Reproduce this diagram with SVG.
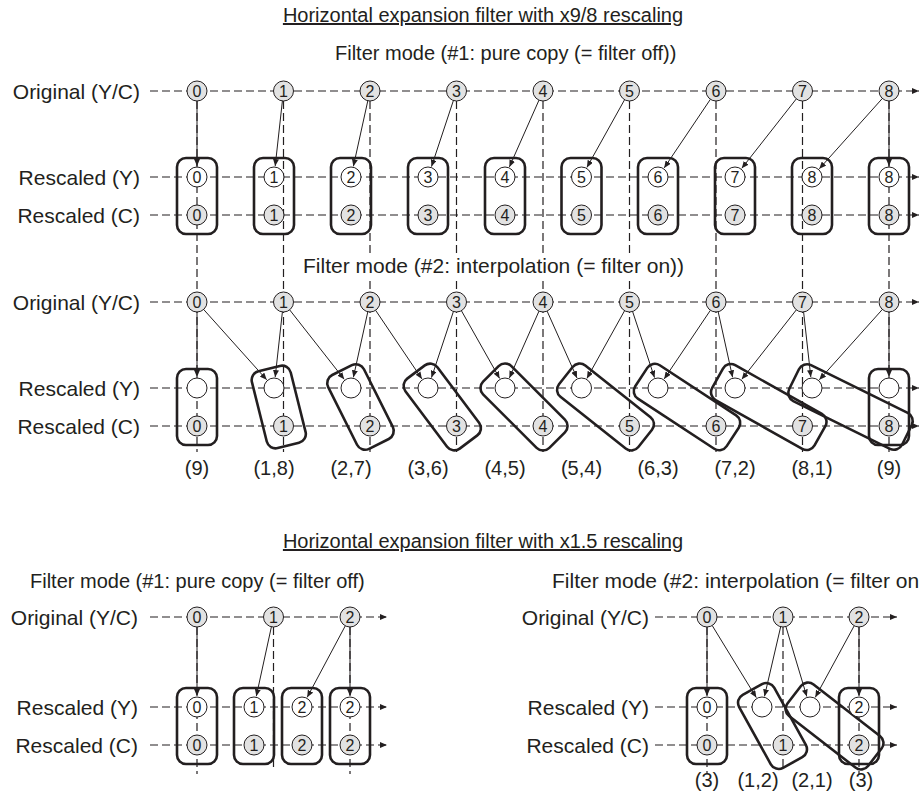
<svg xmlns="http://www.w3.org/2000/svg" width="922" height="798" viewBox="0 0 922 798">
<style>
text{font-family:"Liberation Sans",Arial,sans-serif;fill:#231f20}
.ttl{font-size:20px;text-anchor:middle;text-decoration:underline}
.fm{font-size:20px}
.lbl{font-size:21px;text-anchor:end}
.wt{font-size:20px;text-anchor:middle}
.n{font-size:16px;text-anchor:middle}
.dash{stroke:#231f20;stroke-width:1.2;stroke-dasharray:8 4;fill:none}
.dh{stroke:#231f20;stroke-width:1.2;stroke-dasharray:8 4;fill:none;marker-end:url(#ah)}
.arr{stroke:#231f20;stroke-width:1;fill:none;marker-end:url(#ah)}
.box{fill:none;stroke:#231f20;stroke-width:2.6}
.cg{fill:#e2e2e2;stroke:#231f20;stroke-width:1}
.cw{fill:#fff;stroke:#231f20;stroke-width:1}
</style>
<defs>
<marker id="ah" markerUnits="userSpaceOnUse" markerWidth="8" markerHeight="6" refX="7" refY="3" orient="auto"><path d="M0,0 L7,3 L0,6 z" fill="#231f20"/></marker>
</defs>

<!-- titles -->
<text class="ttl" x="483" y="22">Horizontal expansion filter with x9/8 rescaling</text>
<text class="fm" x="335" y="60">Filter mode (#1: pure copy (= filter off))</text>
<text class="ttl" x="483" y="548">Horizontal expansion filter with x1.5 rescaling</text>
<text class="fm" x="30" y="588">Filter mode (#1: pure copy (= filter off)</text>
<text class="fm" x="552" y="588" style="font-size:21px">Filter mode (#2: interpolation (= filter on</text>

<!-- row labels -->
<text class="lbl" x="140" y="99">Original (Y/C)</text>
<text class="lbl" x="140" y="185">Rescaled (Y)</text>
<text class="lbl" x="140" y="223">Rescaled (C)</text>
<text class="lbl" x="140" y="310">Original (Y/C)</text>
<text class="lbl" x="140" y="396">Rescaled (Y)</text>
<text class="lbl" x="140" y="434">Rescaled (C)</text>
<text class="lbl" x="138" y="625">Original (Y/C)</text>
<text class="lbl" x="138" y="715">Rescaled (Y)</text>
<text class="lbl" x="138" y="753">Rescaled (C)</text>
<text class="lbl" x="649" y="625">Original (Y/C)</text>
<text class="lbl" x="649" y="715">Rescaled (Y)</text>
<text class="lbl" x="649" y="753">Rescaled (C)</text>

<g id="connectors">
<!-- horizontal dashed rows -->
<line class="dh" x1="150" y1="91" x2="919" y2="91"/>
<line class="dh" x1="150" y1="177" x2="919" y2="177"/>
<line class="dh" x1="150" y1="215" x2="919" y2="215"/>
<line class="dh" x1="150" y1="302" x2="919" y2="302"/>
<line class="dh" x1="150" y1="388" x2="919" y2="388"/>
<line class="dh" x1="150" y1="426" x2="919" y2="426"/>
<line class="dh" x1="150" y1="617" x2="387" y2="617"/>
<line class="dh" x1="150" y1="707" x2="387" y2="707"/>
<line class="dh" x1="150" y1="745" x2="387" y2="745"/>
<line class="dh" x1="655" y1="617" x2="897" y2="617"/>
<line class="dh" x1="655" y1="707" x2="897" y2="707"/>
<line class="dh" x1="655" y1="745" x2="897" y2="745"/>
<!-- vertical dashed lines -->
<line class="dash" x1="197" y1="101" x2="197" y2="452"/>
<line class="dash" x1="283.5" y1="101" x2="283.5" y2="452"/>
<line class="dash" x1="370" y1="101" x2="370" y2="452"/>
<line class="dash" x1="456.5" y1="101" x2="456.5" y2="452"/>
<line class="dash" x1="543" y1="101" x2="543" y2="452"/>
<line class="dash" x1="629.5" y1="101" x2="629.5" y2="452"/>
<line class="dash" x1="716" y1="101" x2="716" y2="452"/>
<line class="dash" x1="802.5" y1="101" x2="802.5" y2="452"/>
<line class="dash" x1="889" y1="101" x2="889" y2="452"/>
<line class="dash" x1="197" y1="627" x2="197" y2="774"/>
<line class="dash" x1="273.5" y1="627" x2="273.5" y2="770"/>
<line class="dash" x1="350" y1="627" x2="350" y2="774"/>
<line class="dash" x1="707" y1="627" x2="707" y2="774"/>
<line class="dash" x1="783" y1="627" x2="783" y2="770"/>
<line class="dash" x1="859" y1="627" x2="859" y2="774"/>

<!-- section 1 arrows -->
<line class="arr" x1="197" y1="101" x2="197" y2="166"/>
<line class="arr" x1="282.4" y1="100.9" x2="275.2" y2="166.1"/>
<line class="arr" x1="367.8" y1="100.8" x2="353.4" y2="166.3"/>
<line class="arr" x1="453.4" y1="100.5" x2="431.5" y2="166.6"/>
<line class="arr" x1="539" y1="100.1" x2="509.4" y2="166.9"/>
<line class="arr" x1="624.6" y1="99.7" x2="586.9" y2="167.4"/>
<line class="arr" x1="710.4" y1="99.3" x2="664.2" y2="167.9"/>
<line class="arr" x1="796.3" y1="98.9" x2="741.8" y2="168.3"/>
<line class="arr" x1="882.3" y1="98.5" x2="819.3" y2="168.8"/>
<line class="arr" x1="889" y1="101" x2="889" y2="166"/>

<!-- section 2 arrows -->
<line class="arr" x1="197" y1="312" x2="197" y2="377"/>
<line class="arr" x1="282.4" y1="311.9" x2="275.2" y2="377.1"/>
<line class="arr" x1="367.8" y1="311.8" x2="353.4" y2="377.3"/>
<line class="arr" x1="453.4" y1="311.5" x2="431.5" y2="377.6"/>
<line class="arr" x1="539" y1="311.1" x2="509.4" y2="377.9"/>
<line class="arr" x1="624.6" y1="310.7" x2="586.9" y2="378.4"/>
<line class="arr" x1="710.4" y1="310.3" x2="664.2" y2="378.9"/>
<line class="arr" x1="796.3" y1="309.9" x2="741.8" y2="379.3"/>
<line class="arr" x1="882.3" y1="309.5" x2="819.3" y2="379.8"/>
<line class="arr" x1="203.7" y1="309.5" x2="266.7" y2="379.8"/>
<line class="arr" x1="289.7" y1="309.9" x2="344.2" y2="379.3"/>
<line class="arr" x1="375.6" y1="310.3" x2="421.9" y2="378.9"/>
<line class="arr" x1="461.4" y1="310.7" x2="499.6" y2="378.4"/>
<line class="arr" x1="547.1" y1="311.1" x2="577" y2="378"/>
<line class="arr" x1="632.6" y1="311.5" x2="654.5" y2="377.6"/>
<line class="arr" x1="718.2" y1="311.8" x2="732.6" y2="377.3"/>
<line class="arr" x1="803.6" y1="311.9" x2="810.8" y2="377.1"/>
<line class="arr" x1="889" y1="312" x2="889" y2="377"/>

<!-- bottom-left arrows -->
<line class="arr" x1="197" y1="627" x2="197" y2="696"/>
<line class="arr" x1="271.4" y1="626.8" x2="256.3" y2="696.2"/>
<line class="arr" x1="345.3" y1="625.8" x2="307.2" y2="697.3"/>
<line class="arr" x1="350" y1="627" x2="350" y2="696"/>

<!-- bottom-right arrows -->
<line class="arr" x1="707" y1="627" x2="707" y2="696"/>
<line class="arr" x1="712.2" y1="625.5" x2="756.3" y2="697.6"/>
<line class="arr" x1="780.7" y1="626.7" x2="764.5" y2="696.3"/>
<line class="arr" x1="785.9" y1="626.6" x2="806.8" y2="696.5"/>
<line class="arr" x1="854.2" y1="625.8" x2="815.3" y2="697.3"/>
<line class="arr" x1="859" y1="627" x2="859" y2="696"/>
</g>

<!-- white backing so vertical dashes break at the mode caption -->
<rect x="300" y="253" width="392" height="26" fill="#fff"/>
<text class="fm" x="303" y="273" style="font-size:21px">Filter mode (#2: interpolation (= filter on))</text>

<!-- section 1 boxes -->
<g id="s1-boxes">
<rect id="s1-box0" class="box" x="177" y="158" width="40" height="76" rx="9"/>
<rect id="s1-box1" class="box" x="254" y="158" width="40" height="76" rx="9"/>
<rect id="s1-box2" class="box" x="331" y="158" width="40" height="76" rx="9"/>
<rect id="s1-box3" class="box" x="408" y="158" width="40" height="76" rx="9"/>
<rect id="s1-box4" class="box" x="485" y="158" width="40" height="76" rx="9"/>
<rect id="s1-box5" class="box" x="561.5" y="158" width="40" height="76" rx="9"/>
<rect id="s1-box6" class="box" x="638" y="158" width="40" height="76" rx="9"/>
<rect id="s1-box7" class="box" x="715" y="158" width="40" height="76" rx="9"/>
<rect id="s1-box8" class="box" x="792" y="158" width="40" height="76" rx="9"/>
<rect id="s1-box9" class="box" x="869" y="158" width="40" height="76" rx="9"/>
</g>

<!-- section 2 boxes -->
<g id="s2-boxes">
<rect id="s2-box0" class="box" x="177" y="369" width="40" height="76" rx="9"/>
<rect id="s2-box1" class="box" x="-20" y="-39.58" width="40" height="79.17" rx="9" transform="translate(278.75,407) rotate(-14.04)"/>
<rect id="s2-box2" class="box" x="-20" y="-41.25" width="40" height="82.49" rx="9" transform="translate(360.5,407) rotate(-26.57)"/>
<rect id="s2-box3" class="box" x="-20" y="-43.75" width="40" height="87.5" rx="9" transform="translate(442.25,407) rotate(-36.87)"/>
<rect id="s2-box4" class="box" x="-20" y="-46.87" width="40" height="93.74" rx="9" transform="translate(524,407) rotate(-45)"/>
<rect id="s2-box5" class="box" x="-20" y="-50.61" width="40" height="101.22" rx="9" transform="translate(605.5,407) rotate(-51.63)"/>
<rect id="s2-box6" class="box" x="-20" y="-54.67" width="40" height="109.34" rx="9" transform="translate(687,407) rotate(-56.77)"/>
<rect id="s2-box7" class="box" x="-20" y="-58.73" width="40" height="117.46" rx="9" transform="translate(768.75,407) rotate(-60.62)"/>
<rect id="s2-box8" class="box" x="-20" y="-62.94" width="40" height="125.87" rx="9" transform="translate(850.5,407) rotate(-63.73)"/>
<rect id="s2-box9" class="box" x="869" y="369" width="40" height="76" rx="9"/>
</g>

<!-- bottom boxes -->
<g id="bl-boxes">
<rect id="bl-box0" class="box" x="177" y="688" width="40" height="76" rx="9"/>
<rect id="bl-box1" class="box" x="234" y="688" width="40" height="76" rx="9"/>
<rect id="bl-box2" class="box" x="282" y="688" width="40" height="76" rx="9"/>
<rect id="bl-box3" class="box" x="330" y="688" width="40" height="76" rx="9"/>
</g>
<g id="br-boxes">
<rect id="br-box0" class="box" x="687" y="688" width="40" height="76" rx="9"/>
<rect id="br-box1" class="box" x="-20" y="-41.71" width="40" height="83.42" rx="9" transform="translate(772.5,726) rotate(-28.93)"/>
<rect id="br-box2" class="box" x="-20" y="-51" width="40" height="102.01" rx="9" transform="translate(834.5,726) rotate(-52.2)"/>
<rect id="br-box3" class="box" x="839" y="688" width="40" height="76" rx="9"/>
</g>

<!-- section 1 nodes -->
<g id="s1-orig">
<g id="s1-o0"><circle class="cg" cx="197" cy="91" r="10"/><text class="n" x="197" y="96.5">0</text></g>
<g id="s1-o1"><circle class="cg" cx="283.5" cy="91" r="10"/><text class="n" x="283.5" y="96.5">1</text></g>
<g id="s1-o2"><circle class="cg" cx="370" cy="91" r="10"/><text class="n" x="370" y="96.5">2</text></g>
<g id="s1-o3"><circle class="cg" cx="456.5" cy="91" r="10"/><text class="n" x="456.5" y="96.5">3</text></g>
<g id="s1-o4"><circle class="cg" cx="543" cy="91" r="10"/><text class="n" x="543" y="96.5">4</text></g>
<g id="s1-o5"><circle class="cg" cx="629.5" cy="91" r="10"/><text class="n" x="629.5" y="96.5">5</text></g>
<g id="s1-o6"><circle class="cg" cx="716" cy="91" r="10"/><text class="n" x="716" y="96.5">6</text></g>
<g id="s1-o7"><circle class="cg" cx="802.5" cy="91" r="10"/><text class="n" x="802.5" y="96.5">7</text></g>
<g id="s1-o8"><circle class="cg" cx="889" cy="91" r="10"/><text class="n" x="889" y="96.5">8</text></g>
</g>
<g id="s1-y">
<g id="s1-y0"><circle class="cw" cx="197" cy="177" r="10"/><text class="n" x="197" y="182.5">0</text></g>
<g id="s1-y1"><circle class="cw" cx="274" cy="177" r="10"/><text class="n" x="274" y="182.5">1</text></g>
<g id="s1-y2"><circle class="cw" cx="351" cy="177" r="10"/><text class="n" x="351" y="182.5">2</text></g>
<g id="s1-y3"><circle class="cw" cx="428" cy="177" r="10"/><text class="n" x="428" y="182.5">3</text></g>
<g id="s1-y4"><circle class="cw" cx="505" cy="177" r="10"/><text class="n" x="505" y="182.5">4</text></g>
<g id="s1-y5"><circle class="cw" cx="581.5" cy="177" r="10"/><text class="n" x="581.5" y="182.5">5</text></g>
<g id="s1-y6"><circle class="cw" cx="658" cy="177" r="10"/><text class="n" x="658" y="182.5">6</text></g>
<g id="s1-y7"><circle class="cw" cx="735" cy="177" r="10"/><text class="n" x="735" y="182.5">7</text></g>
<g id="s1-y8"><circle class="cw" cx="812" cy="177" r="10"/><text class="n" x="812" y="182.5">8</text></g>
<g id="s1-y9"><circle class="cw" cx="889" cy="177" r="10"/><text class="n" x="889" y="182.5">8</text></g>
</g>
<g id="s1-c">
<g id="s1-c0"><circle class="cg" cx="197" cy="215" r="10"/><text class="n" x="197" y="220.5">0</text></g>
<g id="s1-c1"><circle class="cg" cx="274" cy="215" r="10"/><text class="n" x="274" y="220.5">1</text></g>
<g id="s1-c2"><circle class="cg" cx="351" cy="215" r="10"/><text class="n" x="351" y="220.5">2</text></g>
<g id="s1-c3"><circle class="cg" cx="428" cy="215" r="10"/><text class="n" x="428" y="220.5">3</text></g>
<g id="s1-c4"><circle class="cg" cx="505" cy="215" r="10"/><text class="n" x="505" y="220.5">4</text></g>
<g id="s1-c5"><circle class="cg" cx="581.5" cy="215" r="10"/><text class="n" x="581.5" y="220.5">5</text></g>
<g id="s1-c6"><circle class="cg" cx="658" cy="215" r="10"/><text class="n" x="658" y="220.5">6</text></g>
<g id="s1-c7"><circle class="cg" cx="735" cy="215" r="10"/><text class="n" x="735" y="220.5">7</text></g>
<g id="s1-c8"><circle class="cg" cx="812" cy="215" r="10"/><text class="n" x="812" y="220.5">8</text></g>
<g id="s1-c9"><circle class="cg" cx="889" cy="215" r="10"/><text class="n" x="889" y="220.5">8</text></g>
</g>

<!-- section 2 nodes -->
<g id="s2-orig">
<g id="s2-o0"><circle class="cg" cx="197" cy="302" r="10"/><text class="n" x="197" y="307.5">0</text></g>
<g id="s2-o1"><circle class="cg" cx="283.5" cy="302" r="10"/><text class="n" x="283.5" y="307.5">1</text></g>
<g id="s2-o2"><circle class="cg" cx="370" cy="302" r="10"/><text class="n" x="370" y="307.5">2</text></g>
<g id="s2-o3"><circle class="cg" cx="456.5" cy="302" r="10"/><text class="n" x="456.5" y="307.5">3</text></g>
<g id="s2-o4"><circle class="cg" cx="543" cy="302" r="10"/><text class="n" x="543" y="307.5">4</text></g>
<g id="s2-o5"><circle class="cg" cx="629.5" cy="302" r="10"/><text class="n" x="629.5" y="307.5">5</text></g>
<g id="s2-o6"><circle class="cg" cx="716" cy="302" r="10"/><text class="n" x="716" y="307.5">6</text></g>
<g id="s2-o7"><circle class="cg" cx="802.5" cy="302" r="10"/><text class="n" x="802.5" y="307.5">7</text></g>
<g id="s2-o8"><circle class="cg" cx="889" cy="302" r="10"/><text class="n" x="889" y="307.5">8</text></g>
</g>
<g id="s2-y">
<circle id="s2-y0" class="cw" cx="197" cy="388" r="10"/>
<circle id="s2-y1" class="cw" cx="274" cy="388" r="10"/>
<circle id="s2-y2" class="cw" cx="351" cy="388" r="10"/>
<circle id="s2-y3" class="cw" cx="428" cy="388" r="10"/>
<circle id="s2-y4" class="cw" cx="505" cy="388" r="10"/>
<circle id="s2-y5" class="cw" cx="581.5" cy="388" r="10"/>
<circle id="s2-y6" class="cw" cx="658" cy="388" r="10"/>
<circle id="s2-y7" class="cw" cx="735" cy="388" r="10"/>
<circle id="s2-y8" class="cw" cx="812" cy="388" r="10"/>
<circle id="s2-y9" class="cw" cx="889" cy="388" r="10"/>
</g>
<g id="s2-c">
<g id="s2-c0"><circle class="cg" cx="197" cy="426" r="10"/><text class="n" x="197" y="431.5">0</text></g>
<g id="s2-c1"><circle class="cg" cx="283.5" cy="426" r="10"/><text class="n" x="283.5" y="431.5">1</text></g>
<g id="s2-c2"><circle class="cg" cx="370" cy="426" r="10"/><text class="n" x="370" y="431.5">2</text></g>
<g id="s2-c3"><circle class="cg" cx="456.5" cy="426" r="10"/><text class="n" x="456.5" y="431.5">3</text></g>
<g id="s2-c4"><circle class="cg" cx="543" cy="426" r="10"/><text class="n" x="543" y="431.5">4</text></g>
<g id="s2-c5"><circle class="cg" cx="629.5" cy="426" r="10"/><text class="n" x="629.5" y="431.5">5</text></g>
<g id="s2-c6"><circle class="cg" cx="716" cy="426" r="10"/><text class="n" x="716" y="431.5">6</text></g>
<g id="s2-c7"><circle class="cg" cx="802.5" cy="426" r="10"/><text class="n" x="802.5" y="431.5">7</text></g>
<g id="s2-c8"><circle class="cg" cx="889" cy="426" r="10"/><text class="n" x="889" y="431.5">8</text></g>
</g>
<g id="s2-weights">
<text class="wt" x="197" y="475">(9)</text>
<text class="wt" x="274" y="475">(1,8)</text>
<text class="wt" x="351" y="475">(2,7)</text>
<text class="wt" x="428" y="475">(3,6)</text>
<text class="wt" x="505" y="475">(4,5)</text>
<text class="wt" x="581.5" y="475">(5,4)</text>
<text class="wt" x="658" y="475">(6,3)</text>
<text class="wt" x="735" y="475">(7,2)</text>
<text class="wt" x="812" y="475">(8,1)</text>
<text class="wt" x="889" y="475">(9)</text>
</g>

<!-- bottom-left nodes -->
<g id="bl-orig">
<g id="bl-o0"><circle class="cg" cx="197" cy="617" r="10"/><text class="n" x="197" y="622.5">0</text></g>
<g id="bl-o1"><circle class="cg" cx="273.5" cy="617" r="10"/><text class="n" x="273.5" y="622.5">1</text></g>
<g id="bl-o2"><circle class="cg" cx="350" cy="617" r="10"/><text class="n" x="350" y="622.5">2</text></g>
</g>
<g id="bl-y">
<g id="bl-y0"><circle class="cw" cx="197" cy="707" r="10"/><text class="n" x="197" y="712.5">0</text></g>
<g id="bl-y1"><circle class="cw" cx="254" cy="707" r="10"/><text class="n" x="254" y="712.5">1</text></g>
<g id="bl-y2"><circle class="cw" cx="302" cy="707" r="10"/><text class="n" x="302" y="712.5">2</text></g>
<g id="bl-y3"><circle class="cw" cx="350" cy="707" r="10"/><text class="n" x="350" y="712.5">2</text></g>
</g>
<g id="bl-c">
<g id="bl-c0"><circle class="cg" cx="197" cy="745" r="10"/><text class="n" x="197" y="750.5">0</text></g>
<g id="bl-c1"><circle class="cg" cx="254" cy="745" r="10"/><text class="n" x="254" y="750.5">1</text></g>
<g id="bl-c2"><circle class="cg" cx="302" cy="745" r="10"/><text class="n" x="302" y="750.5">2</text></g>
<g id="bl-c3"><circle class="cg" cx="350" cy="745" r="10"/><text class="n" x="350" y="750.5">2</text></g>
</g>

<!-- bottom-right nodes -->
<g id="br-orig">
<g id="br-o0"><circle class="cg" cx="707" cy="617" r="10"/><text class="n" x="707" y="622.5">0</text></g>
<g id="br-o1"><circle class="cg" cx="783" cy="617" r="10"/><text class="n" x="783" y="622.5">1</text></g>
<g id="br-o2"><circle class="cg" cx="859" cy="617" r="10"/><text class="n" x="859" y="622.5">2</text></g>
</g>
<g id="br-y">
<g id="br-y0"><circle class="cw" cx="707" cy="707" r="10"/><text class="n" x="707" y="712.5">0</text></g>
<circle id="br-y1" class="cw" cx="762" cy="707" r="10"/>
<circle id="br-y2" class="cw" cx="810" cy="707" r="10"/>
<g id="br-y3"><circle class="cw" cx="859" cy="707" r="10"/><text class="n" x="859" y="712.5">2</text></g>
</g>
<g id="br-c">
<g id="br-c0"><circle class="cg" cx="707" cy="745" r="10"/><text class="n" x="707" y="750.5">0</text></g>
<g id="br-c1"><circle class="cg" cx="783" cy="745" r="10"/><text class="n" x="783" y="750.5">1</text></g>
<g id="br-c2"><circle class="cg" cx="859" cy="745" r="10"/><text class="n" x="859" y="750.5">2</text></g>
</g>
<g id="br-weights">
<text class="wt" x="707" y="787">(3)</text>
<text class="wt" x="758" y="787">(1,2)</text>
<text class="wt" x="812" y="787">(2,1)</text>
<text class="wt" x="861" y="787">(3)</text>
</g>
</svg>
